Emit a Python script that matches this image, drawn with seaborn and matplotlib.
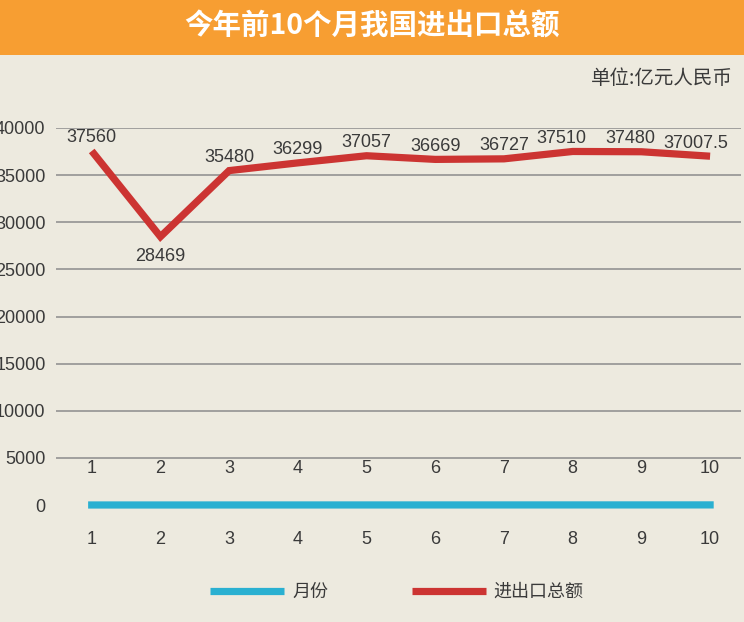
import matplotlib
matplotlib.use("Agg")
import matplotlib.pyplot as plt
from matplotlib.patches import Rectangle
import pandas as pd
import seaborn as sns

# Data
months = [1, 2, 3, 4, 5, 6, 7, 8, 9, 10]
totals = [37560, 28469, 35480, 36299, 37057, 36669, 36727, 37510, 37480, 37007.5]
total_labels = ["37560", "28469", "35480", "36299", "37057", "36669", "36727", "37510", "37480", "37007.5"]
series_names = ["月份", "进出口总额"]
y_ticks = [0, 5000, 10000, 15000, 20000, 25000, 30000, 35000, 40000]

title = "今年前10个月我国进出口总额"
unit = "单位:亿元人民币"

BG = "#EDEADF"
ORANGE = "#F79E32"
RED = "#CC3432"
CYAN = "#2AB0D1"
TXT = "#3a3a3a"

sns.set_style("white")
plt.rcParams["font.family"] = ["Liberation Sans", "Noto Sans CJK SC", "DejaVu Sans"]

df = pd.DataFrame({
    "month": months + months,
    "value": months + totals,
    "series": [series_names[0]] * len(months) + [series_names[1]] * len(months),
})

fig = plt.figure(figsize=(7.44, 6.22), dpi=100, facecolor=BG)
ax = fig.add_axes([56 / 744, 1 - 505 / 622, (741 - 56) / 744, 377 / 622])
ax.set_facecolor(BG)

sns.lineplot(data=df, x="month", y="value", hue="series", hue_order=series_names,
             palette={series_names[0]: CYAN, series_names[1]: RED},
             linewidth=5.2, ax=ax, clip_on=False, solid_capstyle="butt",
             solid_joinstyle="miter")
# month series has square-ish ends that stick out a little
ax.get_lines()[0].set_solid_capstyle("projecting")

ax.set_xlim(0.48, 10.45)
ax.set_ylim(0, 40000)
ax.set_yticks(y_ticks)
ax.set_yticklabels([str(t) for t in y_ticks])
ax.set_xticks(months)
ax.set_xticklabels([str(m) for m in months])
ax.tick_params(axis="y", length=0, pad=7.5, labelsize=13, labelcolor=TXT)
ax.tick_params(axis="x", length=0, pad=19, labelsize=13, labelcolor=TXT)
ax.set_xlabel("")
ax.set_ylabel("")
for s in ax.spines.values():
    s.set_visible(False)

ax.yaxis.grid(True, color="#8c8c8c", linewidth=1.1)
ax.set_axisbelow(True)
ax.get_ygridlines()[0].set_visible(False)

# second row of month labels just under the 5000 gridline
for m in months:
    ax.annotate(str(m), xy=(m, 5000), xytext=(0, -7.5), textcoords="offset points",
                ha="center", va="center", fontsize=13, color=TXT)

# data labels on the red line (last few nudged left like the original so they don't collide)
low = min(totals)
n = len(months)
for i, (m, v, lab) in enumerate(zip(months, totals, total_labels)):
    off = -14 if v == low else 9.5
    dx = -8 if i >= n - 3 else 0
    if i == n - 1:
        dx = -10
    ax.annotate(lab, xy=(m, v), xytext=(dx, off), textcoords="offset points",
                ha="center", va="center", fontsize=13, color=TXT)

# title banner
fig.add_artist(Rectangle((0, 1 - 55 / 622), 1, 55 / 622, transform=fig.transFigure,
                         facecolor=ORANGE, edgecolor="none", zorder=0))
fig.text(0.5, 1 - 27 / 622, title, ha="center", va="center", color="white",
         fontsize=20.5, fontweight="bold", family=["Noto Sans CJK SC", "DejaVu Sans"])
fig.text(733 / 744, 1 - 78 / 622, unit, ha="right", va="center", color=TXT,
         fontsize=14, family=["Noto Sans CJK SC", "DejaVu Sans"])

handles, labels = ax.get_legend_handles_labels()
ax.legend(handles, labels, loc="center", bbox_to_anchor=(397 / 744, 1 - 592 / 622),
          bbox_transform=fig.transFigure, ncol=2, frameon=False,
          handlelength=4.1, handletextpad=0.45, columnspacing=4.6,
          prop={"family": ["Noto Sans CJK SC", "DejaVu Sans"], "size": 13},
          labelcolor=TXT)

fig.savefig("out.png", dpi=100, facecolor=BG)
